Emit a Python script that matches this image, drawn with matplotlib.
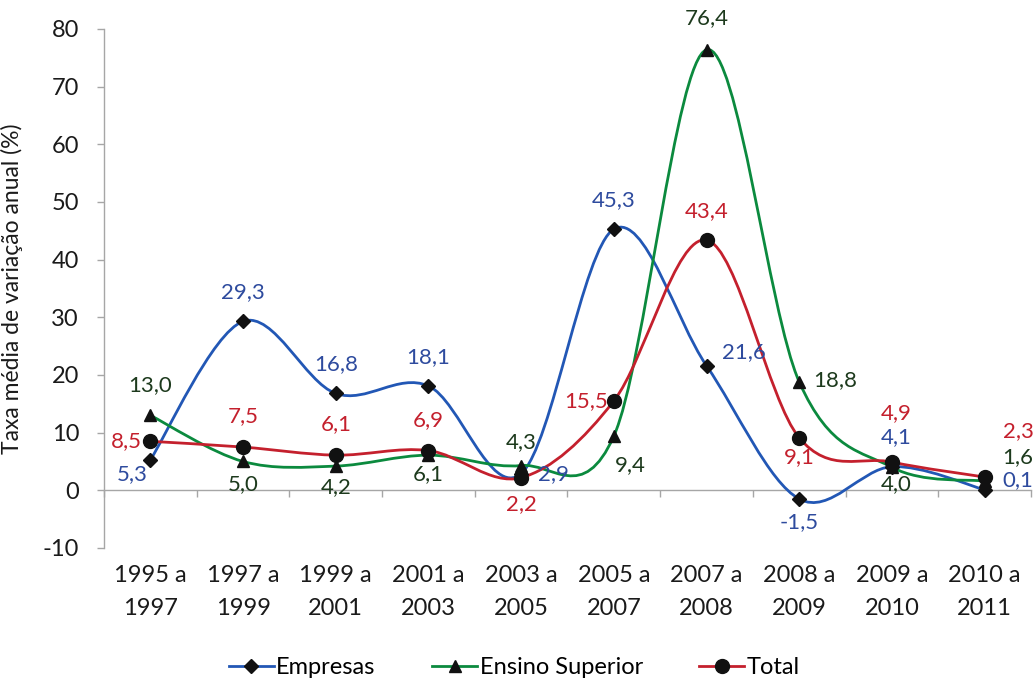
import numpy as np
import matplotlib
matplotlib.use('Agg')
import matplotlib.pyplot as plt
from matplotlib.path import Path
from matplotlib.patches import PathPatch
from matplotlib.lines import Line2D

plt.rcParams['font.family'] = ['Lato', 'DejaVu Sans']
plt.rcParams['axes.unicode_minus'] = False

# ── data ──────────────────────────────────────────────────────────────────────
periods = ['1995 a\n1997', '1997 a\n1999', '1999 a\n2001', '2001 a\n2003',
           '2003 a\n2005', '2005 a\n2007', '2007 a\n2008', '2008 a\n2009',
           '2009 a\n2010', '2010 a\n2011']
empresas = [5.3, 29.3, 16.8, 18.1, 2.9, 45.3, 21.6, -1.5, 4.1, 0.1]
ensino_superior = [13.0, 5.0, 4.2, 6.1, 4.3, 9.4, 76.4, 18.8, 4.0, 1.6]
total = [8.5, 7.5, 6.1, 6.9, 2.2, 15.5, 43.4, 9.1, 4.9, 2.3]

# label offsets (points) for each value label
off_emp = [(-13, -10), (0, 21), (0, 21), (0, 21), (23, 0),
           (0, 21), (27, 10), (0, -17), (3, 21), (24, 7)]
off_ens = [(0, 22), (0, -16), (0, -15), (0, -14), (0, 17),
           (12, -21), (0, 23), (26, 1), (3, -12), (24, 17)]
off_tot = [(-17, 0), (0, 22), (0, 22), (0, 22), (0, -19),
           (-20, 0), (0, 21), (0, -14), (3, 35), (24, 33)]

series = [
    ('Empresas',        empresas,        '#2257b5', '#2e4b9e', 'D', 7,  off_emp),
    ('Ensino Superior', ensino_superior, '#0b8a3e', '#1d3a1d', '^', 9,  off_ens),
    ('Total',           total,           '#c4202d', '#c4202d', 'o', 10, off_tot),
]


def smooth_path(x, y):
    """Catmull-Rom style bezier path through the points (spreadsheet smoothing)."""
    pts = np.column_stack([x, y]).astype(float)
    n = len(pts)
    verts, codes = [pts[0]], [Path.MOVETO]
    for i in range(n - 1):
        p0 = pts[i - 1] if i > 0 else pts[i]
        p1, p2 = pts[i], pts[i + 1]
        p3 = pts[i + 2] if i + 2 < n else pts[i + 1]
        verts += [p1 + (p2 - p0) / 6, p2 - (p3 - p1) / 6, p2]
        codes += [Path.CURVE4] * 3
    return Path(verts, codes)


fig = plt.figure(figsize=(10.35, 6.82), dpi=100)
ax = fig.add_axes([0.1005, 0.1965, 0.8956, 0.761])

x = np.arange(len(periods))
handles = []
for name, vals, lc, tc, mk, ms, offs in series:
    ax.add_patch(PathPatch(smooth_path(x, vals), fill=False, edgecolor=lc,
                           lw=2.0, capstyle='round', joinstyle='round', zorder=3))
    ax.plot(x, vals, ls='none', marker=mk, ms=ms, color='#111111', zorder=4)
    for xi, v, (dx, dy) in zip(x, vals, offs):
        ax.annotate(f'{v:.1f}'.replace('.', ','), (xi, v), xytext=(dx, dy),
                    textcoords='offset points', ha='center', va='center',
                    fontsize=16, color=tc, zorder=5)
    handles.append(Line2D([], [], color=lc, lw=2.0, marker=mk, ms=ms,
                          mfc='#111111', mec='#111111', label=name))

# ── axes styling ──────────────────────────────────────────────────────────────
axis_grey = '#a6a6a6'
ax.set_xlim(-0.5, len(periods) - 0.5)
ax.set_ylim(-10, 80)
ax.set_yticks(range(-10, 81, 10))
ax.tick_params(axis='y', direction='out', length=5, width=1, color=axis_grey,
               labelsize=17, pad=13, labelcolor='#1a1a1a')
ax.spines['left'].set_color(axis_grey)
ax.spines['left'].set_linewidth(1)
ax.spines['top'].set_visible(False)
ax.spines['right'].set_visible(False)
ax.spines['bottom'].set_position(('data', 0))
ax.spines['bottom'].set_color(axis_grey)
ax.spines['bottom'].set_linewidth(1)
ax.set_xticks(np.arange(-0.5, len(periods), 1.0))
ax.set_xticklabels([])
ax.tick_params(axis='x', direction='out', length=5, width=1, color=axis_grey)

sec = ax.secondary_xaxis('bottom')
sec.set_xticks(x, periods)
sec.tick_params(length=0, pad=12, labelsize=17, labelcolor='#1a1a1a')
sec.spines['bottom'].set_visible(False)
for t in sec.get_xticklabels():
    t.set_linespacing(1.7)

ax.set_ylabel('Taxa média de variação anual (%)', fontsize=16.5, color='#1a1a1a')
ax.yaxis.set_label_coords(-0.087, 0.5)

fig.legend(handles=handles, loc='center', bbox_to_anchor=(0.497, 0.021),
           ncol=3, frameon=False, fontsize=17, handlelength=1.9,
           columnspacing=2.4, handletextpad=0.1)

fig.savefig('out.png', dpi=100)
